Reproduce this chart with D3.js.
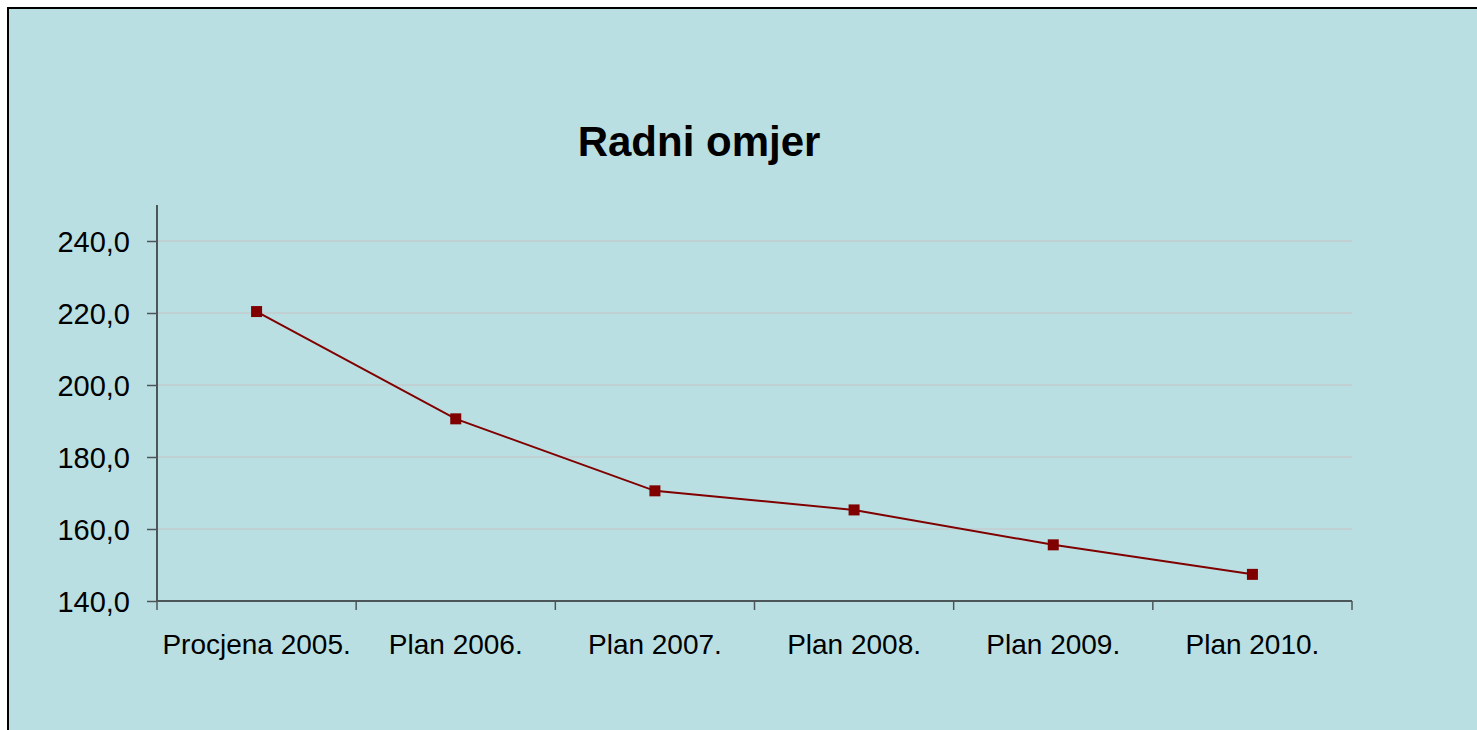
<!DOCTYPE html>
<html>
<head>
<meta charset="utf-8">
<script src="https://cdn.jsdelivr.net/npm/d3@7"></script>
<style>
  body { margin: 0; background: #fff; }
  svg { display: block; font-family: "Liberation Sans", Arial, sans-serif; }
</style>
</head>
<body>
<div id="chart"></div>
<script>
var categories = ["Procjena 2005.", "Plan 2006.", "Plan 2007.", "Plan 2008.", "Plan 2009.", "Plan 2010."]
var values = [220.4, 190.6, 170.6, 165.3, 155.6, 147.4]
var yTicks = [140, 160, 180, 200, 220, 240]
var title = "Radni omjer"

var width = 1477, height = 730
var margin = {top: 205, right: 125, bottom: 129, left: 157}

var svg = d3.select("#chart").append("svg")
	.attr("width", width)
	.attr("height", height)

// chart area
svg.append("rect")
	.attr("x", 8)
	.attr("y", 8)
	.attr("width", width + 10)
	.attr("height", height + 10)
	.attr("fill", "#badfe2")
	.attr("stroke", "#000")
	.attr("stroke-width", 2)

svg.append("text")
	.attr("x", 699)
	.attr("y", 156)
	.attr("text-anchor", "middle")
	.attr("font-size", 42)
	.attr("font-weight", "bold")
	.attr("fill", "#000")
	.text(title)

var x = d3.scaleBand()
	.domain(categories)
	.range([margin.left, width - margin.right])

// 20 units = 72px as in the picture
var y = d3.scaleLinear()
	.domain([140, 250])
	.range([height - margin.bottom, height - margin.bottom - 110 * 3.6])

var g = svg.append("g")

// gridlines
g.selectAll(".grid")
	.data(yTicks.filter(d => d > 140))
	.join("line")
	.attr("class", "grid")
	.attr("x1", margin.left)
	.attr("x2", width - margin.right)
	.attr("y1", d => y(d))
	.attr("y2", d => y(d))
	.attr("stroke", "#c3cbcc")
	.attr("stroke-width", 1.5)

// y axis
var yAxis = g.append("g")
	.attr("transform", `translate(${margin.left},0)`)
	.call(d3.axisLeft(y).tickValues(yTicks).tickSize(10).tickPadding(17)
		.tickFormat(d => d3.format(".1f")(d).replace(".", ",")))

yAxis.selectAll("text")
	.attr("font-size", 29)
	.attr("fill", "#000")
	.attr("font-family", "Liberation Sans, Arial, sans-serif")
	.attr("dy", "0.35em")

// x axis
var xAxis = g.append("g")
	.attr("transform", `translate(0,${y(140)})`)
	.call(d3.axisBottom(x).tickSize(0).tickPadding(0))

xAxis.selectAll("text")
	.attr("font-size", 28)
	.attr("fill", "#000")
	.attr("font-family", "Liberation Sans, Arial, sans-serif")
	.attr("y", 53)
	.attr("dy", 0)

// category boundary ticks
xAxis.selectAll(".bound")
	.data(categories.map((c, i) => i).concat([categories.length]))
	.join("line")
	.attr("class", "bound")
	.attr("x1", i => margin.left + i * x.bandwidth())
	.attr("x2", i => margin.left + i * x.bandwidth())
	.attr("y1", 0)
	.attr("y2", 9)
	.attr("stroke", "#4c5658")
	.attr("stroke-width", 1.5)

svg.selectAll(".domain, .tick line")
	.attr("stroke", "#4c5658")
	.attr("stroke-width", 2)
yAxis.select(".domain").attr("d", `M0,${y(140)}V${y(250)}`)
yAxis.selectAll(".tick line").attr("stroke-width", 1.5)
xAxis.select(".domain").attr("d", `M${margin.left},0H${width - margin.right}`)

var data = categories.map((c, i) => ({cat: c, value: values[i]}))

var line = d3.line()
	.x(d => x(d.cat) + x.bandwidth() / 2)
	.y(d => y(d.value))

g.append("path")
	.datum(data)
	.attr("fill", "none")
	.attr("stroke", "#800000")
	.attr("stroke-width", 2)
	.attr("d", line)

g.selectAll(".marker")
	.data(data)
	.join("rect")
	.attr("class", "marker")
	.attr("x", d => x(d.cat) + x.bandwidth() / 2 - 5.5)
	.attr("y", d => y(d.value) - 5.5)
	.attr("width", 11)
	.attr("height", 11)
	.attr("fill", "#800000")
</script>
</body>
</html>
